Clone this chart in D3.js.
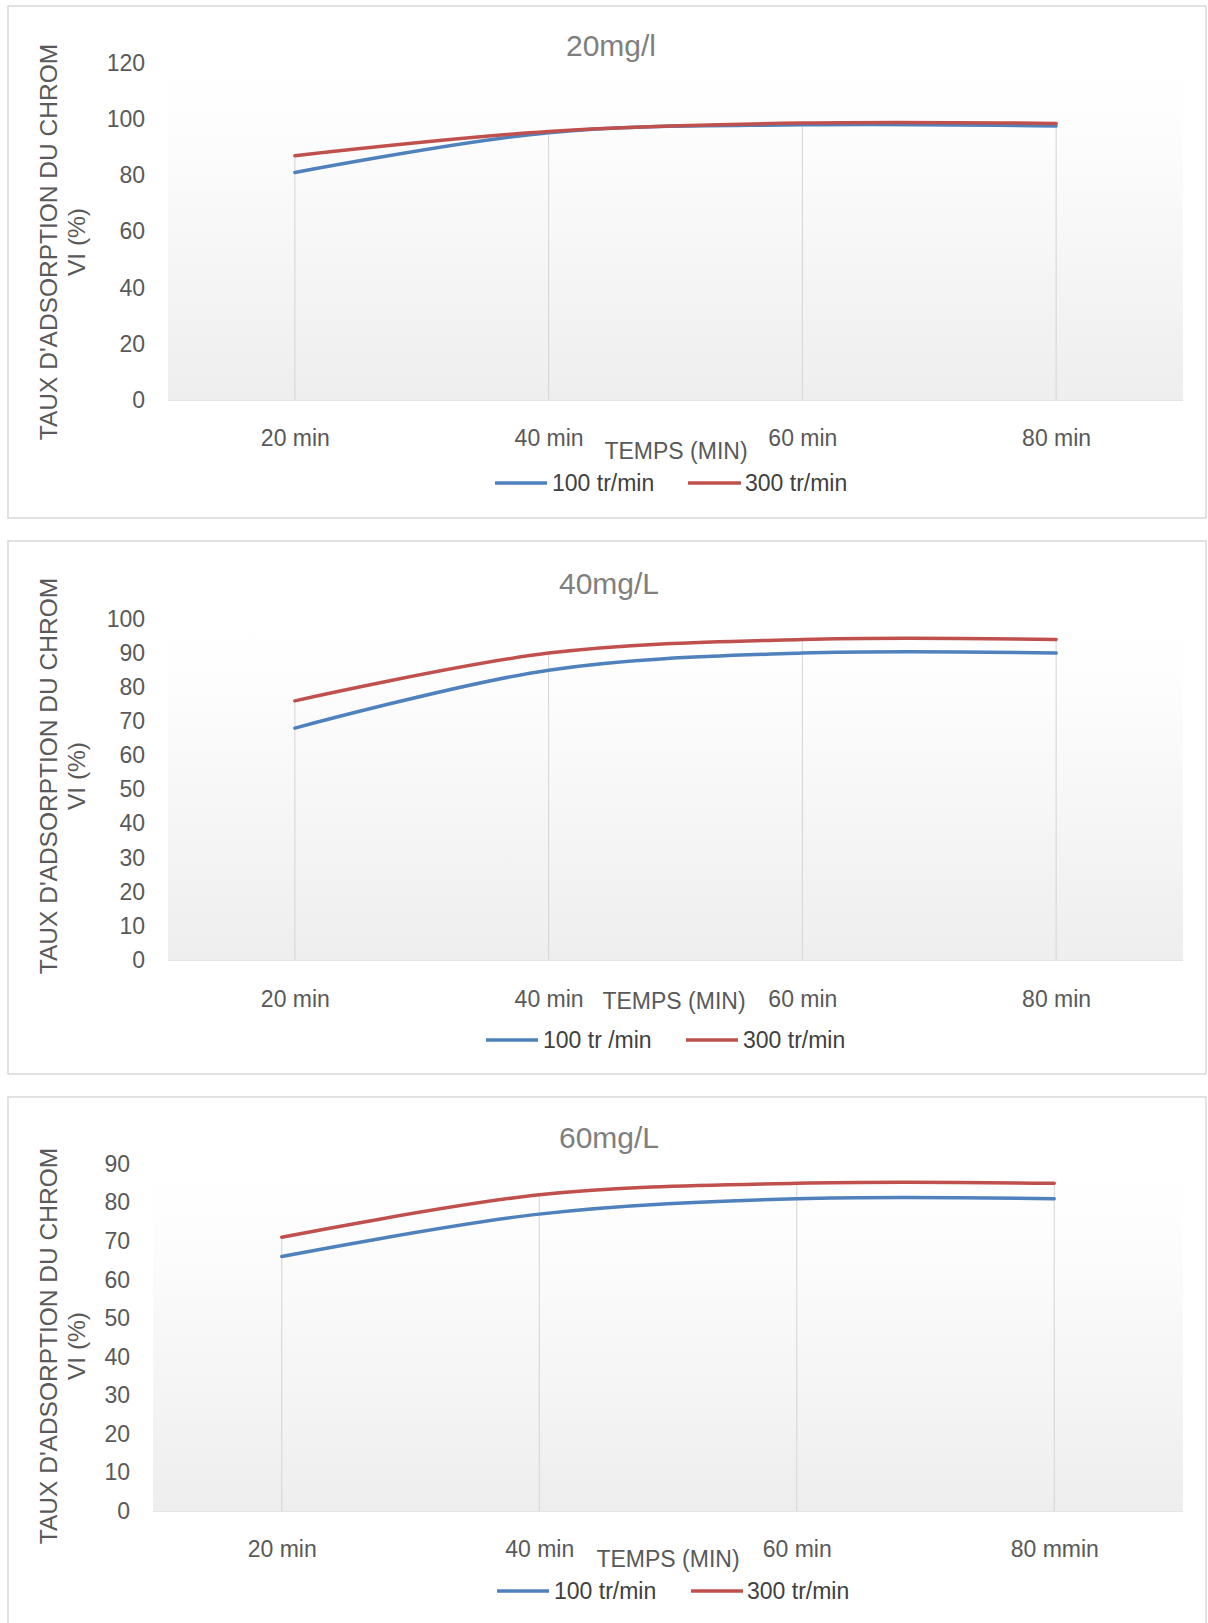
<!DOCTYPE html>
<html>
<head>
<meta charset="utf-8">
<script src="https://cdn.jsdelivr.net/npm/d3@7"></script>
<style>
  html, body { margin: 0; padding: 0; background: #ffffff; }
  svg { display: block; font-family: "Liberation Sans", Arial, sans-serif; }
</style>
</head>
<body>
<script>
// Data (adsorption rate, %)
const categories = ["20 min", "40 min", "60 min", "80 min"];
const categories60 = ["20 min", "40 min", "60 min", "80 mmin"];
const seriesNames = ["100 tr/min", "300 tr/min"];
const seriesNames40 = ["100 tr /min", "300 tr/min"];

const c20_rpm100 = [81, 95.2, 98, 97.6];
const c20_rpm300 = [87, 95.6, 98.6, 98.5];
const c40_rpm100 = [68, 85, 90, 90];
const c40_rpm300 = [76, 90, 94, 94];
const c60_rpm100 = [66, 77, 81, 81];
const c60_rpm300 = [71, 82, 85, 85];

const yTicks20 = [0, 20, 40, 60, 80, 100, 120];
const yTicks40 = [0, 10, 20, 30, 40, 50, 60, 70, 80, 90, 100];
const yTicks60 = [0, 10, 20, 30, 40, 50, 60, 70, 80, 90];

const colors = ["#4f81bd", "#c0504d"];

// Layout of each panel on the page
const panels = [
    {
        title: "20mg/l", cats: categories, names: seriesNames, series: [c20_rpm100, c20_rpm300], ticks: yTicks20,
        box: [8, 6, 1198, 512], plot: { left: 168, right: 1183, top: 63, bottom: 400 },
        titleY: 45, titleX: 611, tickY: 438, axisTitle: [676, 451], yTitleY: 242,
        legendY: 483, legend: [[495, 547, 552], [688, 741, 745]]
    },
    {
        title: "40mg/L", cats: categories, names: seriesNames40, series: [c40_rpm100, c40_rpm300], ticks: yTicks40,
        box: [8, 541, 1198, 533], plot: { left: 168, right: 1183, top: 619, bottom: 960 },
        titleY: 583, titleX: 609, tickY: 999, axisTitle: [674, 1001], yTitleY: 776,
        legendY: 1040, legend: [[486, 538, 543], [686, 738, 743]]
    },
    {
        title: "60mg/L", cats: categories60, names: seriesNames, series: [c60_rpm100, c60_rpm300], ticks: yTicks60,
        box: [8, 1097, 1198, 560], plot: { left: 153, right: 1183, top: 1164, bottom: 1511 },
        titleY: 1137, titleX: 609, tickY: 1549, axisTitle: [668, 1559], yTitleY: 1346,
        legendY: 1591, legend: [[497, 549, 554], [691, 743, 747]]
    }
];

const svg = d3.select("body").append("svg")
    .attr("width", 1208)
    .attr("height", 1623)
    .attr("viewBox", [0, 0, 1208, 1623]);

const defs = svg.append("defs");
const grad = defs.append("linearGradient")
    .attr("id", "plotFill")
    .attr("x1", 0).attr("y1", 0).attr("x2", 0).attr("y2", 1);
grad.append("stop").attr("offset", "0%").attr("stop-color", "#ffffff");
grad.append("stop").attr("offset", "20%").attr("stop-color", "#fdfdfd");
grad.append("stop").attr("offset", "100%").attr("stop-color", "#eeeeee");

panels.forEach(p => {
    const g = svg.append("g");

    // chart frame
    g.append("rect")
        .attr("x", p.box[0]).attr("y", p.box[1])
        .attr("width", p.box[2]).attr("height", p.box[3])
        .attr("fill", "#ffffff")
        .attr("stroke", "#d9d9d9")
        .attr("stroke-width", 1.5);

    const x = d3.scalePoint()
        .domain(p.cats)
        .range([p.plot.left, p.plot.right])
        .padding(0.5);

    const y = d3.scaleLinear()
        .domain([0, d3.max(p.ticks)])
        .range([p.plot.bottom, p.plot.top]);

    // plot area with soft vertical gradient
    g.append("rect")
        .attr("x", p.plot.left).attr("y", p.plot.top)
        .attr("width", p.plot.right - p.plot.left)
        .attr("height", p.plot.bottom - p.plot.top)
        .attr("fill", "url(#plotFill)");

    g.append("line")
        .attr("x1", p.plot.left).attr("x2", p.plot.right)
        .attr("y1", p.plot.bottom + 0.5).attr("y2", p.plot.bottom + 0.5)
        .attr("stroke", "#e4e4e4");

    // drop lines from the highest point down to the axis
    g.append("g")
        .selectAll("line")
        .data(p.cats)
        .join("line")
            .attr("x1", d => x(d)).attr("x2", d => x(d))
            .attr("y1", (d, i) => y(d3.max(p.series, s => s[i])))
            .attr("y2", p.plot.bottom)
            .attr("stroke", "#d4d4d4")
            .attr("stroke-width", 1);

    // y axis labels
    g.append("g")
        .attr("transform", `translate(${p.plot.left - 23},0)`)
        .call(d3.axisLeft(y).tickValues(p.ticks).tickSize(0).tickPadding(0))
        .call(a => a.select(".domain").remove())
        .call(a => a.selectAll("text")
            .attr("fill", "#595959")
            .attr("font-size", 23)
            .attr("font-family", "Liberation Sans, Arial, sans-serif"));

    // x axis labels
    g.append("g")
        .attr("transform", `translate(0,${p.tickY})`)
        .call(d3.axisBottom(x).tickSize(0).tickPadding(0))
        .call(a => a.select(".domain").remove())
        .call(a => a.selectAll("text")
            .attr("dy", "0.35em")
            .attr("fill", "#595959")
            .attr("font-size", 23)
            .attr("font-family", "Liberation Sans, Arial, sans-serif"));

    // series lines
    const line = d3.line()
        .x((d, i) => x(p.cats[i]))
        .y(d => y(d))
        .curve(d3.curveCatmullRom.alpha(0.5));

    g.append("g")
        .selectAll("path")
        .data(p.series)
        .join("path")
            .attr("d", d => line(d))
            .attr("fill", "none")
            .attr("stroke", (d, i) => colors[i])
            .attr("stroke-width", 3.5)
            .attr("stroke-linecap", "round");

    // chart title
    g.append("text")
        .attr("x", p.titleX).attr("y", p.titleY)
        .attr("dy", "0.35em")
        .attr("text-anchor", "middle")
        .attr("font-size", 30)
        .attr("fill", "#7f7f7f")
        .text(p.title);

    // axis titles
    g.append("text")
        .attr("x", p.axisTitle[0]).attr("y", p.axisTitle[1])
        .attr("dy", "0.35em")
        .attr("text-anchor", "middle")
        .attr("font-size", 23)
        .attr("fill", "#595959")
        .text("TEMPS (MIN)");

    const yTitle = g.append("text")
        .attr("transform", `translate(48,${p.yTitleY}) rotate(-90)`)
        .attr("text-anchor", "middle")
        .attr("font-size", 24.5)
        .attr("fill", "#595959");
    yTitle.append("tspan").attr("x", 0).attr("dy", "0.35em").text("TAUX D'ADSORPTION DU CHROM");
    yTitle.append("tspan").attr("x", 0).attr("dy", 28).text("VI (%)");

    // legend
    const leg = g.append("g")
        .selectAll("g")
        .data(p.names)
        .join("g");
    leg.append("line")
        .attr("x1", (d, i) => p.legend[i][0]).attr("x2", (d, i) => p.legend[i][1])
        .attr("y1", p.legendY).attr("y2", p.legendY)
        .attr("stroke", (d, i) => colors[i])
        .attr("stroke-width", 3.5);
    leg.append("text")
        .attr("x", (d, i) => p.legend[i][2]).attr("y", p.legendY)
        .attr("dy", "0.35em")
        .attr("font-size", 23)
        .attr("fill", "#404040")
        .text(d => d);
});
</script>
</body>
</html>
